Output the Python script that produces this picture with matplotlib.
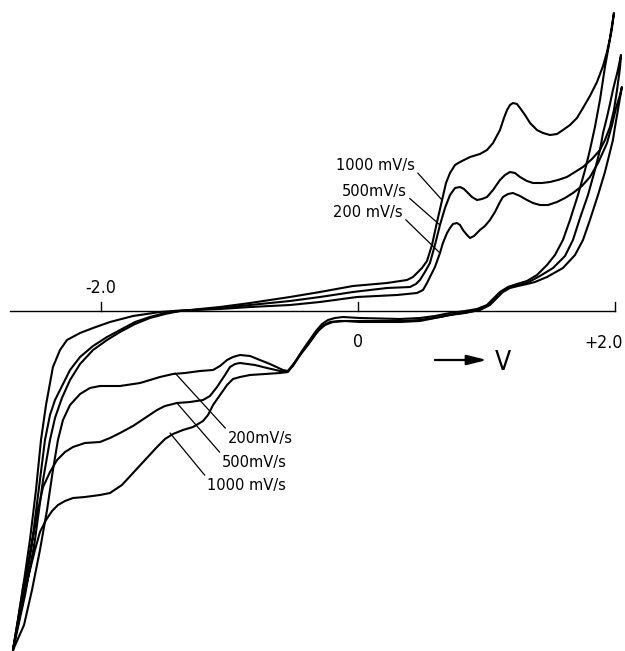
import matplotlib
matplotlib.use("Agg")
import matplotlib.pyplot as plt
from matplotlib import font_manager as fm
import numpy as np

# Cyclic voltammograms at three scan rates (potential in V, current in arbitrary units)
scan_rates = ["200 mV/s", "500 mV/s", "1000 mV/s"]

# --- 200 mV/s ---
E200_fwd = [-2.685, -2.615, -2.553, -2.506, -2.467, -2.428, -2.374, -2.319, -2.265, -2.163,
            -2.062, -1.930, -1.751, -1.541, -1.385, -1.074, -0.840, -0.529, -0.296, -0.008,
            0.304, 0.459, 0.506, 0.537, 0.568, 0.599, 0.638, 0.661, 0.693, 0.716,
            0.739, 0.770, 0.794, 0.817, 0.848, 0.872, 0.903, 0.949, 0.988, 1.027,
            1.066, 1.105, 1.128, 1.167, 1.206, 1.261, 1.315, 1.362, 1.416, 1.479,
            1.549, 1.611, 1.673, 1.743, 1.805, 1.868, 1.907, 1.938, 1.977, 2.008,
            2.039, 2.054]
I200_fwd = [-33.9, -28.4, -22.9, -17.9, -12.9, -9.4, -5.6, -3.9, -2.9, -2.2,
            -1.7, -1.1, -0.5, -0.1, 0.05, 0.2, 0.4, 0.6, 0.9, 1.4,
            1.6, 1.8, 2.1, 2.8, 3.6, 4.4, 5.8, 6.8, 7.8, 8.3,
            8.7, 8.8, 8.6, 8.1, 7.6, 7.3, 7.5, 8.1, 8.5, 9.1,
            9.9, 10.9, 11.4, 11.7, 11.8, 11.5, 11.1, 10.8, 10.6, 10.6,
            10.9, 11.3, 11.8, 12.5, 13.4, 14.8, 15.9, 16.8, 18.6, 20.3,
            21.6, 22.4]
E200_rev = [2.039, 2.023, 2.000, 1.984, 1.961, 1.922, 1.868, 1.805, 1.751, 1.689,
            1.595, 1.471, 1.377, 1.315, 1.245, 1.183, 1.128, 1.089, 1.027, 0.949,
            0.872, 0.755, 0.638, 0.482, 0.327, 0.016, -0.140, -0.218, -0.280, -0.335,
            -0.389, -0.451, -0.506, -0.545, -0.584, -0.685, -0.763, -0.840, -0.918, -0.973,
            -1.019, -1.074, -1.128, -1.230, -1.346, -1.440, -1.541, -1.696, -1.852, -2.008,
            -2.086, -2.163, -2.241, -2.296, -2.335, -2.374, -2.420, -2.475, -2.537, -2.599,
            -2.685]
I200_rev = [21.3, 20.1, 18.4, 17.1, 15.9, 13.9, 11.6, 9.1, 7.1, 5.6,
            4.3, 3.4, 2.9, 2.7, 2.5, 2.3, 1.9, 1.4, 0.6, 0.1,
            -0.1, -0.3, -0.6, -0.9, -1.0, -1.0, -1.0, -1.1, -1.5, -2.4,
            -3.4, -4.4, -5.5, -6.0, -5.9, -5.3, -4.9, -4.5, -4.4, -4.6,
            -4.9, -5.5, -5.9, -6.0, -6.2, -6.3, -6.6, -7.2, -7.5, -7.5,
            -7.7, -8.3, -9.4, -10.9, -12.9, -15.9, -19.9, -23.9, -27.9, -31.4,
            -33.9]

# --- 500 mV/s ---
E500_fwd = [-2.685, -2.599, -2.529, -2.475, -2.436, -2.397, -2.358, -2.319, -2.241, -2.163,
            -2.062, -1.953, -1.852, -1.735, -1.619, -1.502, -1.385, -1.074, -0.840, -0.529,
            -0.296, -0.039, 0.226, 0.405, 0.451, 0.482, 0.521, 0.560, 0.599, 0.638,
            0.677, 0.716, 0.755, 0.794, 0.825, 0.848, 0.887, 0.926, 0.965, 1.004,
            1.051, 1.105, 1.144, 1.183, 1.222, 1.261, 1.315, 1.362, 1.432, 1.494,
            1.556, 1.626, 1.689, 1.751, 1.821, 1.883, 1.922, 1.961, 1.992, 2.016,
            2.039, 2.047]
I500_fwd = [-33.9, -28.4, -22.4, -16.9, -12.9, -10.4, -8.9, -7.9, -5.9, -4.6,
            -3.5, -2.6, -1.9, -1.1, -0.6, -0.2, 0.0, 0.3, 0.6, 1.0,
            1.4, 1.9, 2.3, 2.4, 2.7, 3.1, 3.9, 4.8, 6.6, 8.6,
            10.3, 11.6, 12.3, 12.4, 12.2, 11.9, 11.4, 11.1, 11.2, 11.4,
            12.1, 13.1, 13.6, 13.9, 13.8, 13.4, 13.0, 12.8, 12.8, 12.9,
            13.1, 13.4, 13.9, 14.4, 15.2, 16.1, 17.1, 18.4, 20.1, 22.1,
            24.3, 25.6]
E500_rev = [2.023, 1.984, 1.961, 1.938, 1.907, 1.883, 1.844, 1.790, 1.728, 1.673,
            1.611, 1.518, 1.416, 1.315, 1.237, 1.167, 1.105, 1.051, 1.004, 0.926,
            0.833, 0.716, 0.599, 0.482, 0.327, 0.016, -0.101, -0.195, -0.257, -0.311,
            -0.358, -0.412, -0.467, -0.514, -0.553, -0.607, -0.708, -0.802, -0.918, -0.957,
            -0.996, -1.035, -1.097, -1.152, -1.206, -1.307, -1.409, -1.502, -1.564, -1.658,
            -1.751, -1.852, -1.930, -2.008, -2.125, -2.218, -2.280, -2.342, -2.397, -2.451,
            -2.490, -2.529, -2.568, -2.607, -2.646, -2.685]
I500_rev = [24.1, 22.1, 20.7, 19.4, 17.8, 16.1, 14.1, 11.6, 9.3, 7.1,
            5.5, 4.3, 3.5, 2.8, 2.6, 2.3, 1.8, 1.1, 0.5, 0.1,
            -0.2, -0.4, -0.7, -1.0, -1.1, -1.1, -1.0, -1.1, -1.4, -2.0,
            -2.8, -3.7, -4.7, -5.5, -6.1, -6.0, -5.7, -5.4, -5.2, -5.3,
            -5.6, -6.4, -7.6, -8.5, -8.9, -9.1, -9.2, -9.5, -9.9, -10.7,
            -11.5, -12.2, -12.7, -13.1, -13.2, -13.6, -14.1, -14.9, -16.1, -17.6,
            -19.9, -22.6, -25.4, -27.6, -30.9, -33.9]

# --- 1000 mV/s ---
E1000_fwd = [-2.685, -2.591, -2.514, -2.451, -2.397, -2.358, -2.304, -2.241, -2.163, -2.062,
             -1.953, -1.852, -1.735, -1.619, -1.502, -1.385, -1.074, -0.840, -0.529, -0.296,
             -0.039, 0.226, 0.381, 0.428, 0.459, 0.498, 0.537, 0.576, 0.615, 0.654,
             0.685, 0.716, 0.755, 0.794, 0.872, 0.949, 1.004, 1.051, 1.105, 1.136,
             1.160, 1.183, 1.206, 1.237, 1.261, 1.300, 1.339, 1.393, 1.440, 1.494,
             1.549, 1.595, 1.650, 1.704, 1.751, 1.805, 1.860, 1.907, 1.938, 1.961,
             1.977, 1.992]
I1000_fwd = [-33.9, -28.4, -22.9, -16.9, -12.9, -10.7, -8.7, -6.9, -5.3, -3.9,
             -2.9, -2.1, -1.3, -0.7, -0.3, 0.0, 0.4, 0.8, 1.4, 1.9,
             2.5, 2.8, 3.1, 3.4, 3.8, 4.3, 5.0, 6.6, 8.9, 11.1,
             12.8, 13.8, 14.6, 14.9, 15.4, 15.7, 16.1, 16.8, 18.1, 19.3,
             20.1, 20.6, 20.8, 20.7, 20.3, 19.6, 18.8, 18.1, 17.8, 17.6,
             17.7, 18.1, 18.6, 19.3, 20.3, 21.5, 22.9, 24.5, 25.9, 27.3,
             28.6, 29.8]
E1000_rev = [1.977, 1.953, 1.922, 1.883, 1.844, 1.805, 1.767, 1.712, 1.650, 1.595,
             1.533, 1.471, 1.393, 1.315, 1.237, 1.167, 1.105, 1.051, 1.004, 0.926,
             0.833, 0.716, 0.599, 0.482, 0.327, 0.016, -0.117, -0.179, -0.233, -0.280,
             -0.327, -0.381, -0.436, -0.490, -0.545, -0.607, -0.724, -0.840, -0.918, -0.973,
             -1.019, -1.074, -1.128, -1.167, -1.206, -1.284, -1.362, -1.440, -1.502, -1.564,
             -1.658, -1.751, -1.837, -1.930, -2.008, -2.125, -2.218, -2.280, -2.335, -2.381,
             -2.428, -2.475, -2.514, -2.553, -2.591, -2.630, -2.685]
I1000_rev = [28.3, 26.6, 24.4, 21.1, 18.4, 16.1, 14.1, 11.6, 9.1, 7.1,
             5.6, 4.6, 3.6, 3.0, 2.7, 2.4, 1.9, 1.2, 0.6, 0.2,
             0.0, -0.2, -0.5, -0.7, -0.8, -0.7, -0.6, -0.7, -0.9, -1.3,
             -2.0, -3.0, -4.0, -5.1, -6.1, -6.2, -6.3, -6.4, -6.6, -6.8,
             -7.4, -8.4, -9.4, -10.4, -11.0, -11.6, -11.9, -12.3, -12.8, -13.6,
             -14.9, -16.2, -17.4, -18.2, -18.4, -18.6, -18.7, -19.0, -19.4, -20.0,
             -20.9, -22.1, -23.9, -25.9, -27.9, -29.9, -33.9]

# potential axis
axis_start, axis_end = -2.708, 2.0
tick_positions = [-2.0, 0.0, 2.0]

# scan-rate labels: (text, text anchor, curve point)
upper_labels = [("1000 mV/s", (0.444, 14.1), (0.654, 11.1)),
                ("500mV/s", (0.381, 11.5), (0.638, 8.6)),
                ("200 mV/s", (0.350, 9.4), (0.638, 5.8))]
lower_labels = [("200mV/s", (-1.012, -13.2), (-1.424, -6.2)),
                ("500mV/s", (-1.058, -15.6), (-1.409, -9.2)),
                ("1000 mV/s", (-1.175, -17.9), (-1.463, -12.2))]


def pick_narrow_font():
    """Return the file of a narrow sans face if one is installed, else None."""
    prefs = ["Liberation Sans Narrow", "DejaVu Sans", "Noto Sans", "Roboto",
             "Open Sans", "Lato", "Inter"]
    found = {}
    for f in fm.fontManager.ttflist:
        w = f.weight if isinstance(f.weight, int) else {"normal": 400, "regular": 400}.get(str(f.weight).lower(), 0)
        if f.style != "normal" or w != 400:
            continue
        narrow = ("Narrow" in f.name or "Condensed" in f.name or
                  str(f.stretch) in ("condensed", "semi-condensed") or
                  "Condensed" in f.fname or "Narrow" in f.fname)
        if not narrow or "Mono" in f.name or "Extra" in f.fname or "Semi" in f.fname:
            continue
        for p in prefs:
            if f.name.startswith(p) and p not in found:
                found[p] = f.fname
    for p in prefs:
        if p in found:
            return found[p]
    return None


narrow_file = pick_narrow_font()


def props(size):
    if narrow_file:
        return fm.FontProperties(fname=narrow_file, size=size)
    return fm.FontProperties(family="DejaVu Sans", size=size)


fig = plt.figure(figsize=(6.25, 6.51), dpi=100)
ax = fig.add_axes([0, 0, 1, 1])
ax.set_xlim(-2.786, 2.078)
ax.set_ylim(-34.0, 31.1)
ax.axis("off")
renderer = fig.canvas.get_renderer()


def fit_size(sample, width_px):
    """Font size whose rendering of `sample` is about width_px wide."""
    t = fig.text(0, 0, sample, fontproperties=props(10))
    w = t.get_window_extent(renderer).width
    t.remove()
    return 10 * width_px / w


label_size = min(fit_size("500mV/s", 65), 15)
tick_size = min(fit_size("-2.0", 31), 14)

loops = [(E200_fwd, I200_fwd, E200_rev, I200_rev),
         (E500_fwd, I500_fwd, E500_rev, I500_rev),
         (E1000_fwd, I1000_fwd, E1000_rev, I1000_rev)]
for ef, i_f, er, i_r in loops:
    E = np.concatenate([ef, er])
    I = np.concatenate([i_f, i_r])
    ax.plot(E, I, color="black", lw=1.5, solid_joinstyle="round",
            solid_capstyle="round", clip_on=False)

# zero-current line with ticks
ax.plot([axis_start, axis_end], [0, 0], color="black", lw=1.0)
for t in tick_positions:
    ax.plot([t, t], [0, 0.9], color="black", lw=1.0)

ax.text(-2.0, 1.8, "-2.0", ha="center", va="baseline", fontproperties=props(tick_size))
ax.text(0.0, -3.6, "0", ha="center", va="baseline", fontproperties=props(tick_size))
ax.text(2.062, -3.7, "+2.0", ha="right", va="baseline", fontproperties=props(tick_size))

# scan direction arrow and unit
ax.annotate("", xy=(1.004, -4.9), xytext=(0.599, -4.9),
            arrowprops=dict(arrowstyle="-|>,head_length=0.8,head_width=0.2",
                            lw=1.6, color="black", shrinkA=0, shrinkB=0,
                            mutation_scale=15))
ax.text(1.128, -5.9, "V", ha="center", va="baseline", fontproperties=props(19))

for txt, pos, pt in upper_labels:
    ax.annotate(txt, xy=pt, xytext=pos, ha="right", va="baseline",
                fontproperties=props(label_size),
                arrowprops=dict(arrowstyle="-", lw=0.9, color="black",
                                relpos=(1, 0.2), shrinkA=0, shrinkB=0))
for txt, pos, pt in lower_labels:
    ax.annotate(txt, xy=pt, xytext=pos, ha="left", va="baseline",
                fontproperties=props(label_size),
                arrowprops=dict(arrowstyle="-", lw=0.9, color="black",
                                relpos=(0, 1), shrinkA=0, shrinkB=0))

fig.savefig("out.png", dpi=100, facecolor="white")
